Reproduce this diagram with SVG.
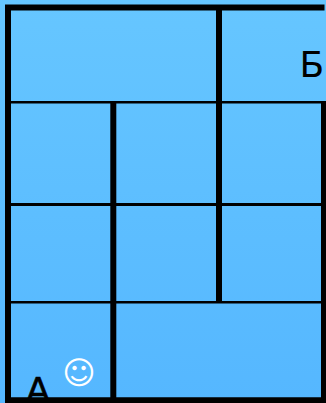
<svg xmlns="http://www.w3.org/2000/svg" width="326" height="403" viewBox="0 0 326 403">
<style>
.t{stroke:#000;fill:none;stroke-width:6}
.m{stroke:#000;fill:none;stroke-width:2.5}
.l{font-family:"DejaVu Sans",sans-serif;font-size:36px;fill:#000}
</style>
<defs><linearGradient id="g" x1="0" y1="0" x2="0" y2="1"><stop offset="0" stop-color="#66c6ff"/><stop offset="1" stop-color="#55b7ff"/></linearGradient></defs>
<rect id="bg" width="326" height="403" fill="url(#g)"/>
<g id="labels">
<text class="l" x="25.700" y="403" stroke="#000" stroke-width="0.6">А</text>
<text class="l" x="299.500" y="77">Б</text>
<text x="79" y="384" text-anchor="middle" font-family="DejaVu Sans,sans-serif" font-size="32" fill="#fff">☺</text>
</g>
<g id="connectors">
<path class="t" d="M8 403V7.500H324.500"/>
<path class="t" d="M11 400.300H326"/>
<path class="t" d="M219 7.500V302"/>
<path class="t" d="M113.300 102V400"/>
<path class="t" d="M324 101V400"/>
<path class="m" d="M11 102.200H324"/>
<path class="m" d="M11 204.500H324" style="stroke-width:3"/>
<path class="m" d="M11 302.200H324"/>
</g>
</svg>
